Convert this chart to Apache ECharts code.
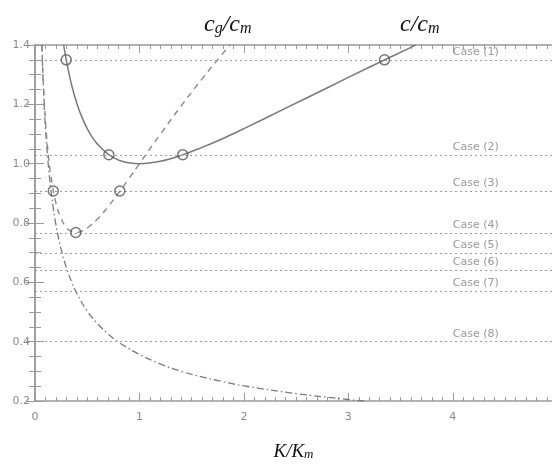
<!DOCTYPE html>
<html>
<head>
<meta charset="utf-8">
<script src="https://cdn.jsdelivr.net/npm/echarts@6/dist/echarts.min.js"></script>
<style>html,body{margin:0;padding:0;background:#fff;}#c{width:552px;height:466px;}</style>
</head>
<body>
<div id="c"></div>
<script>
// Phase speed c/c_m (solid)
const kPhase = [0.2745, 0.3, 0.35, 0.4, 0.45, 0.5, 0.55, 0.6, 0.7, 0.8, 0.9, 1.0, 1.2, 1.4, 1.6, 1.8, 2.0, 2.4, 2.8, 3.2, 3.6, 3.645];
const cPhase = [1.40, 1.348, 1.266, 1.204, 1.156, 1.118, 1.088, 1.065, 1.032, 1.012, 1.003, 1.000, 1.008, 1.028, 1.055, 1.085, 1.118, 1.187, 1.256, 1.325, 1.392, 1.40];
// Group speed c_g/c_m (dashed)
const kGroup = [0.0655, 0.08, 0.1, 0.12, 0.15, 0.2, 0.25, 0.3, 0.35, 0.4, 0.45, 0.5, 0.6, 0.7, 0.8, 0.9, 1.0, 1.2, 1.4, 1.6, 1.8, 1.868];
const cGroup = [1.40, 1.270, 1.146, 1.057, 0.964, 0.868, 0.815, 0.785, 0.771, 0.768, 0.773, 0.783, 0.814, 0.855, 0.901, 0.950, 1.000, 1.099, 1.195, 1.286, 1.372, 1.40];
// Third curve (dash-dot)
const kThird = [0.066, 0.08, 0.1, 0.13, 0.15, 0.175, 0.2, 0.25, 0.3, 0.35, 0.4, 0.5, 0.6, 0.7, 0.8, 1.0, 1.2, 1.4, 1.6, 1.8, 2.0, 2.5, 3.0, 3.15];
const vThird = [1.40, 1.26, 1.12, 0.985, 0.92, 0.85, 0.795, 0.712, 0.65, 0.602, 0.563, 0.503, 0.46, 0.426, 0.398, 0.357, 0.325, 0.300, 0.281, 0.265, 0.251, 0.225, 0.205, 0.200];
// Cases
const caseLabels = ['Case (1)', 'Case (2)', 'Case (3)', 'Case (4)', 'Case (5)', 'Case (6)', 'Case (7)', 'Case (8)'];
const caseLevels = [1.35, 1.03, 0.908, 0.766, 0.697, 0.640, 0.570, 0.400];
// Marked points
const markK = [0.299, 3.346, 0.707, 1.415, 0.175, 0.812, 0.39];
const markV = [1.35, 1.35, 1.03, 1.03, 0.908, 0.908, 0.768];
// Axis ticks
const xTicks = [0, 1, 2, 3, 4];
const yTicks = [0.2, 0.4, 0.6, 0.8, 1.0, 1.2, 1.4];
const X_MIN = 0, X_MAX = 4.95, Y_MIN = 0.2, Y_MAX = 1.4;
const caseLabelK = 4.0;

const zip = (a, b) => a.map((v, i) => [v, b[i]]);
const axisGray = '#9a9a9a';
const labelGray = '#8a8a8a';

const baseX = {
  type: 'value', min: X_MIN, max: X_MAX, interval: 1,
  axisLine: { show: true, lineStyle: { color: axisGray, width: 1.5 } },
  axisTick: { show: true, inside: true, length: 8, lineStyle: { color: axisGray } },
  minorTick: { show: true, splitNumber: 10, length: 4, lineStyle: { color: axisGray } },
  splitLine: { show: false }, minorSplitLine: { show: false }
};
const baseY = {
  type: 'value', min: Y_MIN, max: Y_MAX, interval: 0.2,
  axisLine: { show: true, lineStyle: { color: axisGray, width: 1.5 } },
  axisTick: { show: true, inside: true, length: 9, lineStyle: { color: axisGray } },
  minorTick: { show: true, splitNumber: 4, length: 6, lineStyle: { color: axisGray } },
  splitLine: { show: false }, minorSplitLine: { show: false }
};

const serif = 'Liberation Serif';
const richMath = {
  i: { fontFamily: serif, fontStyle: 'italic', fontWeight: 'normal', fontSize: 24, lineHeight: 28, color: '#111', verticalAlign: 'bottom' },
  s: { fontFamily: serif, fontStyle: 'italic', fontWeight: 'normal', fontSize: 16, lineHeight: 12, color: '#111', verticalAlign: 'bottom' }
};

const chart = echarts.init(document.getElementById('c'), null, { renderer: 'canvas' });
chart.setOption({
  animation: false,
  backgroundColor: '#fff',
  grid: { left: 35, right: 0, top: 45, bottom: 51, containLabel: false },
  title: [
    { text: '{i|c}{s|g}{i|/c}{s|m}', left: 199, top: 4, textStyle: { fontWeight: 'normal', rich: richMath } },
    { text: '{i|c/c}{s|m}', left: 395, top: 4, textStyle: { fontWeight: 'normal', rich: richMath } }
  ],
  xAxis: [
    Object.assign({}, baseX, {
      position: 'bottom',
      name: '{i|K/K}{s|m}', nameLocation: 'middle', nameGap: 38,
      nameTextStyle: { rich: {
        i: { fontFamily: serif, fontStyle: 'italic', fontSize: 19, lineHeight: 22, color: '#111', verticalAlign: 'bottom' },
        s: { fontFamily: serif, fontStyle: 'italic', fontSize: 13, lineHeight: 10, color: '#111', verticalAlign: 'bottom' }
      } },
      axisLabel: { show: true, margin: 11, color: labelGray, fontSize: 11, fontFamily: 'DejaVu Sans', showMaxLabel: false,
        formatter: v => xTicks.includes(v) ? String(v) : '' }
    }),
    Object.assign({}, baseX, { position: 'top', axisLabel: { show: false } })
  ],
  yAxis: [
    Object.assign({}, baseY, {
      position: 'left',
      axisLabel: { show: true, margin: 5, color: labelGray, fontSize: 11, fontFamily: 'DejaVu Sans',
        formatter: v => yTicks.some(t => Math.abs(t - v) < 1e-9) ? v.toFixed(1) : '' }
    }),
    Object.assign({}, baseY, { position: 'right', axisLabel: { show: false } })
  ],
  series: [
    {
      type: 'line', name: 'cases', data: [], silent: true,
      markLine: {
        symbol: 'none', silent: true, animation: false,
        label: { show: false },
        lineStyle: { type: [2, 3], color: '#9c9c9c', width: 1 },
        data: caseLevels.map(v => [{ coord: [X_MIN, v] }, { coord: [X_MAX, v] }])
      }
    },
    {
      type: 'scatter', name: 'caseLabels', symbolSize: 0, silent: true,
      data: caseLevels.map((v, i) => ({ value: [caseLabelK, v], label: { formatter: caseLabels[i] } })),
      label: { show: true, position: 'right', distance: 0, offset: [0, -8], color: '#808080', fontSize: 11, fontFamily: 'DejaVu Sans' }
    },
    {
      type: 'line', name: 'third', data: zip(kThird, vThird), smooth: 0.4, symbol: 'none',
      lineStyle: { color: '#7a7a7a', width: 1.3, type: [7, 3, 1.5, 3] }
    },
    {
      type: 'line', name: 'cg', data: zip(kGroup, cGroup), smooth: 0.4, symbol: 'none',
      lineStyle: { color: '#8a8a8a', width: 1.4, type: [6, 5] }
    },
    {
      type: 'line', name: 'c', data: zip(kPhase, cPhase), smooth: 0.4, symbol: 'none',
      lineStyle: { color: '#7a7a7a', width: 1.5, type: 'solid' }
    },
    {
      type: 'scatter', name: 'marks', data: zip(markK, markV), symbol: 'circle', symbolSize: 10,
      itemStyle: { color: 'rgba(0,0,0,0)', borderColor: '#555', borderWidth: 1.5 }, z: 5
    }
  ]
});
</script>
</body>
</html>
